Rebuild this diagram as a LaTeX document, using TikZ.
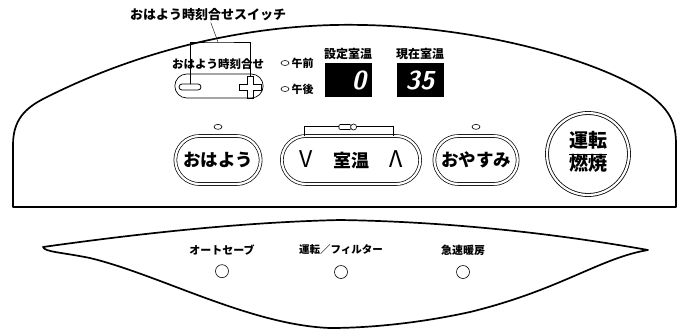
\documentclass[tikz,border=0pt]{standalone}
\usepackage{fontspec}
\setmainfont{Noto Sans CJK JP}
\usetikzlibrary{shapes.misc,shapes.geometric,positioning}

\tikzset{
  panel/.style={line width=1.7pt, line join=round},
  btn/.style={rounded rectangle, draw, double, double distance=2.2pt, line width=0.7pt,
    minimum height=48, font=\fontsize{17.5}{17.5}\selectfont\bfseries},
  lamp/.style={ellipse, draw, line width=0.6pt, minimum width=8, minimum height=5, inner sep=0pt},
  led/.style={circle, draw, line width=0.6pt, minimum size=13, inner sep=0pt},
  disp/.style={fill=black, minimum width=47, minimum height=34, inner sep=0pt},
  digit/.style={text=white, font=\fontsize{26}{26}\sffamily\bfseries\itshape},
  lbl/.style={font=\fontsize{11}{11}\selectfont\bfseries, inner sep=1pt},
}

\begin{document}
\begin{tikzpicture}[x=1pt,y=-1pt]
\useasboundingbox (0,0) rectangle (679,330);

% upper panel
\draw[panel] (13,207) -- (13,145) .. controls (13,120) and (25,108) .. (45,98)
  .. controls (120,60) and (220,28) .. (333,25)
  .. controls (470,22) and (600,60) .. (650,95)
  .. controls (672,112) and (676,125) .. (676,145) -- (676,207) -- cycle;

% lower panel
\draw[panel] (43,247) .. controls (150,232) and (250,222) .. (340,220)
  .. controls (470,222) and (580,238) .. (648,250)
  .. controls (600,258) and (560,290) .. (470,312)
  .. controls (420,323) and (370,328) .. (330,328)
  .. controls (250,325) and (160,275) .. (90,258)
  .. controls (60,252) and (45,252) .. cycle;

% clock switch
\node[lbl, font=\fontsize{13}{13}\selectfont\bfseries] (switch) at (208,15) {おはよう時刻合せスイッチ};
\node[rounded rectangle, draw, line width=0.7pt, minimum width=95, minimum height=24] (clockbox) at (219,86) {};
\node[lbl, font=\fontsize{11.5}{11.5}\selectfont\bfseries] (clocklbl) at (218,64) {おはよう時刻合せ};
\node[rounded rectangle, draw, line width=0.8pt, minimum width=22, minimum height=6, inner sep=0pt] (minus) at (190,87) {};
\node[minimum size=20, inner sep=0pt] (plus) at (250,87) {};
\draw[line width=0.8pt, shift={(plus.center)}] (-3,-11) -- (3,-11) -- (3,-3) -- (11,-3) -- (11,3) -- (3,3)
  -- (3,11) -- (-3,11) -- (-3,3) -- (-11,3) -- (-11,-3) -- (-3,-3) -- cycle;
\coordinate (jn) at (218,42);
\draw (switch) -- (jn);
\draw (minus) |- (jn) -| (plus);

% am / pm and displays
\node[lamp] (amlamp) at (285,63) {};
\node[lbl, right=1pt of amlamp] (amlbl) {午前};
\node[lamp] (pmlamp) at (285,89) {};
\node[lbl, right=1pt of pmlamp] (pmlbl) {午後};
\node[disp] (setdisp) at (348,80) {};
\node[digit] (setval) at (359,80) {0};
\node[lbl, font=\fontsize{12}{12}\selectfont\bfseries, above=2pt of setdisp] (setlbl) {設定室温};
\node[disp] (nowdisp) at (420,80) {};
\node[digit] (nowval) at (nowdisp) {35};
\node[lbl, font=\fontsize{12}{12}\selectfont\bfseries, above=2pt of nowdisp] (nowlbl) {現在室温};

% buttons
\node[btn, minimum width=92] (ohayo) at (218,160) {おはよう};
\node[lamp, above=6pt of ohayo] (ohayolamp) {};
\node[btn, minimum width=145] (ondo) at (351,160)
  {\makebox[104pt]{\fontsize{23}{23}\mdseries\selectfont V\hfill\fontsize{18}{18}\bfseries\selectfont 室温\hfill\fontsize{23}{23}\mdseries\selectfont Λ}};
\draw[line width=0.7pt] ([xshift=-47]ondo.north) -- ++(0,-9) -| ([xshift=42]ondo.north);
\node[draw, fill=white, line width=0.6pt, rounded corners=1pt, minimum width=12, minimum height=5, inner sep=0pt] (key) at (345,127) {};
\node[circle, draw, fill=white, line width=0.6pt, minimum size=6, inner sep=0pt, right=-1pt of key] (keyhead) {};
\node[btn, minimum width=90] (oyasumi) at (476,160) {おやすみ};
\node[lamp, above=6pt of oyasumi] (oyasumilamp) {};
\node[circle, draw, double, double distance=2.2pt, line width=0.8pt, minimum size=82, inner sep=0pt,
  font=\fontsize{19}{21}\selectfont\bfseries] (unten) at (588,154)
  {\begin{tabular}{@{}c@{}}運転\\\hline 燃焼\end{tabular}};

% lower indicators
\node[lbl] (autosave) at (222,250) {オートセーブ};
\node[led, below=8pt of autosave] (autosaveled) {};
\node[lbl, font=\fontsize{10.5}{10.5}\selectfont\bfseries] (filter) at (341,250) {運転／フィルター};
\node[led] (filterled) at (341,272) {};
\node[lbl] (rapid) at (463,250) {急速暖房};
\node[led] (rapidled) at (463,272) {};
\end{tikzpicture}
\end{document}
